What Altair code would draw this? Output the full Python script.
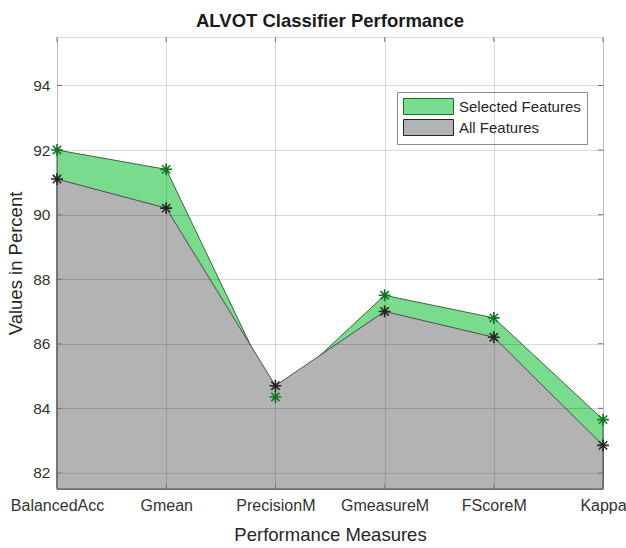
import altair as alt
import pandas as pd

# Classifier scores per performance measure
MEASURES = ["BalancedAcc", "Gmean", "PrecisionM", "GmeasureM", "FScoreM", "Kappa"]
SELECTED = [92.0, 91.4, 84.35, 87.5, 86.8, 83.65]
ALL = [91.1, 90.2, 84.7, 87.0, 86.2, 82.85]

SERIES = ["Selected Features", "All Features"]
Y_TICKS = [82, 84, 86, 88, 90, 92, 94]
Y_DOMAIN = [81.5, 95.5]

FILLS = ["#78DC8C", "#B3B3B3"]
EDGES = ["#3B6444", "#4D4D4D"]
STAR_COLORS = ["#0F7A22", "#262626"]
FONT = "Liberation Sans"
W, H = 546, 452

# MATLAB-style '*' marker and a wide legend swatch as custom symbol paths
ASTERISK = "M-1,0H1M0,-1V1M-0.7,-0.7L0.7,0.7M-0.7,0.7L0.7,-0.7"
SWATCH = "M-1,-1H5.25V1H-1Z"   # 16 px tall, 50 px wide at size 256

rows = []
for m, s, a in zip(MEASURES, SELECTED, ALL):
    rows.append({"measure": m, "value": s, "series": SERIES[0]})
    rows.append({"measure": m, "value": a, "series": SERIES[1]})
df = pd.DataFrame(rows)
ticks_df = pd.DataFrame({"tick": Y_TICKS})
cats_df = pd.DataFrame({"measure": MEASURES})

x_axis = alt.Axis(
    labelFontSize=16, labelFont=FONT, labelColor="#333333", labelPadding=8,
    ticks=False, domain=False, grid=True, gridColor="black", gridOpacity=0.15,
    titleFontSize=18.5, titleFont=FONT, titleFontWeight="normal", titleColor="#262626",
    titlePadding=12, labelAngle=0, zindex=1,
)
y_axis = alt.Axis(
    values=Y_TICKS, labelFontSize=15.5, labelFont=FONT, labelColor="#333333", labelPadding=7,
    ticks=False, domain=False, grid=True, gridColor="black", gridOpacity=0.15,
    titleFontSize=18.5, titleFont=FONT, titleFontWeight="normal", titleColor="#262626",
    titlePadding=7, zindex=1,
)

x = alt.X("measure:N", sort=MEASURES, scale=alt.Scale(type="point", padding=0),
          axis=x_axis, title="Performance Measures")
y = alt.Y("value:Q", scale=alt.Scale(domain=Y_DOMAIN, nice=False, zero=False),
          axis=y_axis, title="Values in Percent")

legend = alt.Legend(
    title=None, orient="none", legendX=340, legendY=55,
    symbolType=SWATCH, symbolSize=256, symbolStrokeColor="#4D4D4D",
    symbolStrokeWidth=1, symbolOpacity=1,
    labelFontSize=15, labelFont=FONT, labelColor="#262626", labelOffset=39,
    strokeColor="#8C8C8C", fillColor="white", padding=6, rowPadding=0,
)
color = alt.Color("series:N", scale=alt.Scale(domain=SERIES, range=FILLS), legend=legend)

base = alt.Chart(df)

sel_area = base.transform_filter(alt.datum.series == SERIES[0]).mark_area(
    stroke=EDGES[0], strokeWidth=1, opacity=1
).encode(x=x, y=y, y2=alt.datum(Y_DOMAIN[0]), color=color)

all_area = base.transform_filter(alt.datum.series == SERIES[1]).mark_area(
    stroke=EDGES[1], strokeWidth=1, opacity=1
).encode(x=x, y=y, y2=alt.datum(Y_DOMAIN[0]), color=color)

stars = base.mark_point(shape=ASTERISK, filled=False, size=140, strokeWidth=1.6, opacity=1).encode(
    x=x, y=y,
    stroke=alt.Stroke("series:N", scale=alt.Scale(domain=SERIES, range=STAR_COLORS), legend=None),
)

# inward tick marks on all four sides of the box
tick_col = "#808080"
y_ticks_left = alt.Chart(ticks_df).mark_rule(color=tick_col).encode(
    y=alt.Y("tick:Q"), x=alt.value(0), x2=alt.value(5))
y_ticks_right = alt.Chart(ticks_df).mark_rule(color=tick_col).encode(
    y=alt.Y("tick:Q"), x=alt.value(W - 5), x2=alt.value(W))
x_ticks_bottom = alt.Chart(cats_df).mark_rule(color=tick_col).encode(
    x=alt.X("measure:N", sort=MEASURES), y=alt.value(H - 5), y2=alt.value(H))
x_ticks_top = alt.Chart(cats_df).mark_rule(color=tick_col).encode(
    x=alt.X("measure:N", sort=MEASURES), y=alt.value(0), y2=alt.value(5))

chart = alt.layer(
    sel_area, all_area, y_ticks_left, y_ticks_right, x_ticks_bottom, x_ticks_top, stars
).properties(
    width=W, height=H,
    title=alt.TitleParams("ALVOT Classifier Performance", fontSize=18.5, fontWeight="bold",
                          font=FONT, color="#1A1A1A", offset=6),
    padding={"left": 57, "top": 37, "right": 23, "bottom": 59},
    autosize=alt.AutoSizeParams(type="none"),
).configure_view(stroke="#808080", strokeWidth=1).configure(background="white")

chart.save("out.html", embed_options={"renderer": "svg", "actions": False})
